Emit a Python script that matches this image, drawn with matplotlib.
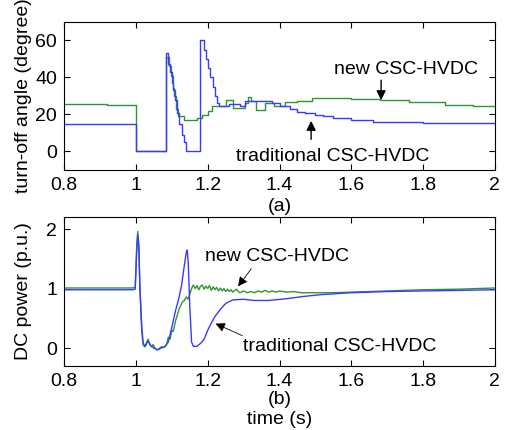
import matplotlib
matplotlib.use('Agg')
import matplotlib.pyplot as plt

plt.rcParams['font.family'] = ['Liberation Sans', 'DejaVu Sans']

# (a) turn-off angle, stepwise
t_ang_trad = [0.8, 1.0, 1.084, 1.09, 1.094, 1.1, 1.104, 1.11, 1.115, 1.12, 1.127, 1.133, 1.14,
              1.178, 1.19, 1.196, 1.202, 1.207, 1.214, 1.219, 1.225, 1.232, 1.26, 1.29, 1.305,
              1.37, 1.38, 1.4, 1.43, 1.45, 1.47, 1.5, 1.52, 1.55, 1.6, 1.66, 1.8, 2.0]
ang_trad = [15, 0, 53, 47, 43, 37, 33, 28, 21, 15, 9, 5, 0,
            60, 55, 50, 45, 40, 35, 30, 26, 24.5, 25.5, 24.5, 27.5,
            27, 26, 24.5, 23, 21.5, 21, 19.8, 19, 18, 17, 16, 15.3, 15]

t_ang_new = [0.8, 0.92, 1.0, 1.084, 1.092, 1.097, 1.102, 1.107, 1.111, 1.118, 1.135, 1.17, 1.185,
             1.2, 1.212, 1.25, 1.27, 1.305, 1.312, 1.32, 1.335, 1.36, 1.384, 1.415, 1.45, 1.49,
             1.6, 1.68, 1.76, 1.86, 1.94, 2.0]
ang_new = [25.5, 25, 0, 51, 46, 41, 34, 30, 23, 19, 17, 18, 19.5,
           22, 24.5, 28, 23.5, 26, 29.5, 27.5, 22.5, 26, 24.5, 26.5, 27.5, 28.7,
           28.5, 27.8, 26.5, 25, 24.5, 24.5]

# (b) DC power
t_p_trad = [0.8, 0.99, 0.998, 1.002, 1.005, 1.008, 1.011, 1.016, 1.02, 1.026, 1.033, 1.04, 1.05,
            1.06, 1.07, 1.08, 1.09, 1.1, 1.11, 1.12, 1.127, 1.134, 1.14, 1.143, 1.146, 1.15,
            1.155, 1.16, 1.17, 1.18, 1.19, 1.2, 1.21, 1.22, 1.235, 1.25, 1.27, 1.3, 1.33, 1.37,
            1.42, 1.47, 1.52, 1.6, 1.7, 1.8, 1.9, 2.0]
p_trad = [0.98, 0.98, 0.99, 1.6, 1.9, 1.7, 1.0, 0.4, 0.08, 0.03, 0.12, 0.05, 0.0,
          -0.03, 0.0, 0.02, 0.1, 0.35, 0.62, 0.85, 1.05, 1.35, 1.6, 1.65, 1.4, 0.7,
          0.1, 0.03, 0.03, 0.08, 0.15, 0.3, 0.42, 0.53, 0.65, 0.75, 0.81, 0.82, 0.8, 0.8,
          0.83, 0.87, 0.9, 0.93, 0.95, 0.96, 0.97, 0.98]

t_p_new = [0.8, 0.99, 0.998, 1.002, 1.005, 1.008, 1.011, 1.016, 1.02, 1.025, 1.03, 1.034, 1.038,
           1.043, 1.048, 1.053, 1.058, 1.065, 1.07, 1.078, 1.085, 1.09, 1.095, 1.1, 1.104, 1.11,
           1.115, 1.12, 1.125, 1.13, 1.135, 1.14, 1.145, 1.15, 1.155, 1.16, 1.165, 1.17, 1.175,
           1.18, 1.185, 1.19, 1.195, 1.2, 1.205, 1.21, 1.215, 1.22, 1.225, 1.23, 1.235, 1.24,
           1.245, 1.25, 1.255, 1.26, 1.265, 1.27, 1.28, 1.285, 1.29, 1.3, 1.31, 1.32, 1.33,
           1.34, 1.35, 1.36, 1.37, 1.38, 1.39, 1.4, 1.42, 1.44, 1.46, 1.5, 1.55, 1.6, 1.7,
           1.8, 1.9, 2.0]
p_new = [1.01, 1.01, 1.02, 1.7, 1.96, 1.75, 1.05, 0.3, 0.05, 0.02, 0.1, 0.15, 0.08,
         0.02, 0.06, 0.0, -0.03, -0.01, 0.02, 0.02, 0.05, 0.18, 0.15, 0.3, 0.28, 0.45,
         0.55, 0.65, 0.72, 0.78, 0.8, 0.86, 0.82, 0.9, 1.0, 1.06, 1.0, 1.05, 0.98,
         1.04, 1.06, 0.99, 1.04, 1.0, 1.05, 0.97, 1.03, 0.98, 1.02, 0.96, 1.01, 0.96,
         1.0, 0.95, 0.99, 0.95, 0.98, 0.94, 0.99, 0.95, 0.93, 0.96, 0.93, 0.95, 0.93,
         0.96, 0.94, 0.97, 0.94, 0.96, 0.94, 0.96, 0.94, 0.95, 0.93, 0.93, 0.93, 0.94, 0.96,
         0.98, 0.99, 1.01]

blue = '#3a3aff'
green = '#2e962e'
fs = 14

fig = plt.figure(figsize=(5.05, 4.3), dpi=100)
ax1 = fig.add_axes([0.127, 0.605, 0.853, 0.344])
ax2 = fig.add_axes([0.127, 0.149, 0.853, 0.346])

ax1.plot(t_ang_new, ang_new, color=green, lw=1, drawstyle='steps-post')
ax1.plot(t_ang_trad, ang_trad, color=blue, lw=1, drawstyle='steps-post')
ax1.set_xlim(0.8, 2)
ax1.set_ylim(-10, 70)
ax1.set_yticks([0, 20, 40, 60])
ax1.set_ylabel('turn-off angle (degree)', fontsize=fs)
ax1.set_xlabel('(a)', fontsize=fs, labelpad=3)

arrow = dict(arrowstyle='-|>', color='k', lw=1, mutation_scale=14)
ax1.annotate('', xy=(1.683, 26.2), xytext=(1.683, 40), arrowprops=arrow)
ax1.text(1.753, 44.4, 'new CSC-HVDC', fontsize=fs, ha='center', va='center')
ax1.annotate('', xy=(1.488, 18), xytext=(1.488, 5), arrowprops=arrow)
ax1.text(1.549, -2.7, 'traditional CSC-HVDC', fontsize=fs, ha='center', va='center')

ax2.plot(t_p_new, p_new, color=green, lw=1)
ax2.plot(t_p_trad, p_trad, color=blue, lw=1)
ax2.set_xlim(0.8, 2)
ax2.set_ylim(-0.3, 2.2)
ax2.set_yticks([0, 1, 2])
ax2.set_ylabel('DC power (p.u.)', fontsize=fs)
ax2.set_xlabel('(b)\ntime (s)', fontsize=fs, labelpad=1, linespacing=1.2)

thin = dict(arrowstyle='-|>', color='k', lw=0.6, mutation_scale=14)
ax2.annotate('', xy=(1.28, 1.0), xytext=(1.326, 1.37), arrowprops=thin)
ax2.text(1.394, 1.54, 'new CSC-HVDC', fontsize=fs, ha='center', va='center')
ax2.annotate('', xy=(1.215, 0.43), xytext=(1.303, 0.19), arrowprops=thin)
ax2.text(1.569, 0.03, 'traditional CSC-HVDC', fontsize=fs, ha='center', va='center')

for ax in (ax1, ax2):
    ax.set_xticks([0.8, 1, 1.2, 1.4, 1.6, 1.8, 2])
    ax.set_xticklabels(['0.8', '1', '1.2', '1.4', '1.6', '1.8', '2'])
    ax.tick_params(direction='in', top=True, right=True, labelsize=fs, length=4, pad=5)
    for s in ax.spines.values():
        s.set_linewidth(0.8)
    ax.yaxis.set_label_coords(-0.075, 0.5)

fig.savefig('out.png', dpi=100)
